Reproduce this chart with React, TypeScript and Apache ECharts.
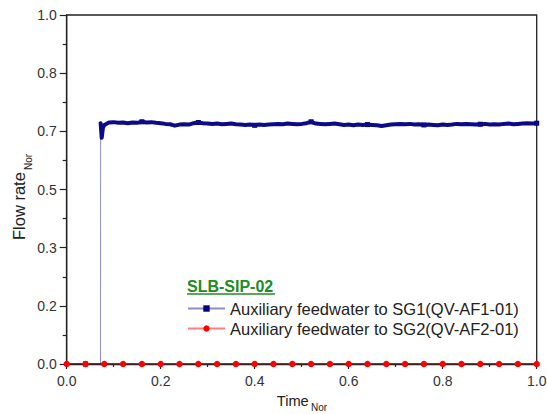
import React, { useEffect, useRef } from "react";
import * as echarts from "echarts";

// ---------- data ----------
const nameSG1 = "Auxiliary feedwater to SG1(QV-AF1-01)";
const nameSG2 = "Auxiliary feedwater to SG2(QV-AF2-01)";
const legendTitle = "SLB-SIP-02";

const xTickLabels = ["0.0", "0.2", "0.4", "0.6", "0.8", "1.0"];
const yTickValues = [0, 1 / 6, 2 / 6, 3 / 6, 4 / 6, 5 / 6, 1];
const yMinorValues = [1 / 12, 3 / 12, 5 / 12, 7 / 12, 9 / 12, 11 / 12];

// SG1: before / during the step
const blueRiseTimes = [0, 0.04, 0.072, 0.0722, 0.0745, 0.077];
const blueRiseValues = [0, 0, 0, 0.69, 0.648, 0.676];
// SG1 plateau, sampled every 0.01 from 0.08 to 1.00
const bluePlateauTimes = [
  0.08, 0.09, 0.1, 0.11, 0.12, 0.13, 0.14, 0.15, 0.16, 0.17, 0.18, 0.19, 0.2, 0.21, 0.22, 0.23,
  0.24, 0.25, 0.26, 0.27, 0.28, 0.29, 0.3, 0.31, 0.32, 0.33, 0.34, 0.35, 0.36, 0.37, 0.38, 0.39,
  0.4, 0.41, 0.42, 0.43, 0.44, 0.45, 0.46, 0.47, 0.48, 0.49, 0.5, 0.51, 0.52, 0.53, 0.54, 0.55,
  0.56, 0.57, 0.58, 0.59, 0.6, 0.61, 0.62, 0.63, 0.64, 0.65, 0.66, 0.67, 0.68, 0.69, 0.7, 0.71,
  0.72, 0.73, 0.74, 0.75, 0.76, 0.77, 0.78, 0.79, 0.8, 0.81, 0.82, 0.83, 0.84, 0.85, 0.86, 0.87,
  0.88, 0.89, 0.9, 0.91, 0.92, 0.93, 0.94, 0.95, 0.96, 0.97, 0.98, 0.99, 1.0,
];
const bluePlateauValues = [
  0.685, 0.692, 0.693, 0.691, 0.692, 0.69, 0.692, 0.691, 0.694, 0.692, 0.693, 0.691, 0.69, 0.688,
  0.687, 0.683, 0.686, 0.687, 0.686, 0.69, 0.692, 0.69, 0.689, 0.688, 0.689, 0.687, 0.688, 0.689,
  0.687, 0.686, 0.685, 0.686, 0.684, 0.686, 0.685, 0.686, 0.687, 0.688, 0.687, 0.689, 0.688, 0.687,
  0.688, 0.69, 0.694, 0.689, 0.688, 0.687, 0.688, 0.689, 0.687, 0.685, 0.686, 0.684, 0.686, 0.685,
  0.686, 0.685, 0.684, 0.682, 0.684, 0.686, 0.687, 0.688, 0.687, 0.688, 0.686, 0.687, 0.685, 0.686,
  0.685, 0.684, 0.686, 0.685, 0.686, 0.688, 0.687, 0.688, 0.687, 0.686, 0.687, 0.688, 0.686, 0.687,
  0.686, 0.688, 0.689, 0.687, 0.688, 0.689, 0.69, 0.689, 0.69,
];
const blueMarkerTimes = [0.04, 0.16, 0.28, 0.4, 0.52, 0.64, 0.76, 0.88, 1.0];

// SG2
const redTimes = [
  0, 0.04, 0.08, 0.12, 0.16, 0.2, 0.24, 0.28, 0.32, 0.36, 0.4, 0.44, 0.48, 0.52, 0.56, 0.6, 0.64,
  0.68, 0.72, 0.76, 0.8, 0.84, 0.88, 0.92, 0.96, 1.0,
];
const redValues = [0, 0, 0, 0, 0, 0, 0, 0, 0, 0, 0, 0, 0, 0, 0, 0, 0, 0, 0, 0, 0, 0, 0, 0, 0, 0];

// ---------- chart ----------
const FONT = "'Liberation Sans', Arial, Helvetica, sans-serif";
const AXIS = "#222";

export default function App() {
  const ref = useRef<HTMLDivElement>(null);

  useEffect(() => {
    if (!ref.current) return;
    const chart = echarts.init(ref.current, null, { renderer: "svg" });

    const isMarker = (t: number) => blueMarkerTimes.some((m) => Math.abs(m - t) < 1e-6);
    const blueTimes = [...blueRiseTimes, ...bluePlateauTimes];
    const blueValues = [...blueRiseValues, ...bluePlateauValues];
    const blueData = blueTimes.map((t, i) => ({
      value: [t, blueValues[i]],
      symbolSize: isMarker(t) ? 5 : 0,
    }));
    const bandData = blueTimes
      .map((t, i) => [t, blueValues[i]])
      .filter((p, i) => i >= 3);
    const redData = redTimes.map((t, i) => [t, redValues[i]]);

    const option: any = {
      animation: false,
      backgroundColor: "#fff",
      grid: {
        left: 66.7,
        right: 10.3,
        top: 15,
        bottom: 50,
        containLabel: false,
        outerBoundsMode: "none",
        show: true,
        borderColor: AXIS,
        borderWidth: 1.3,
        backgroundColor: "transparent",
      },
      xAxis: {
        type: "value",
        min: 0,
        max: 1,
        interval: 0.2,
        axisLine: { show: true, lineStyle: { color: AXIS, width: 1.3 } },
        axisTick: { show: true, inside: false, length: 5, lineStyle: { color: AXIS, width: 1.2 } },
        minorTick: { show: true, splitNumber: 2, length: 3, lineStyle: { color: AXIS, width: 1.2 } },
        splitLine: { show: false },
        minorSplitLine: { show: false },
        axisLabel: {
          margin: 10,
          fontSize: 14,
          fontFamily: FONT,
          color: "#333",
          formatter: (v: number) => xTickLabels[Math.round(v / 0.2)] ?? v.toFixed(1),
        },
      },
      yAxis: [
        {
          type: "value",
          min: 0,
          max: 1,
          position: "left",
          axisLine: { show: true, lineStyle: { color: AXIS, width: 1.3 } },
          axisTick: {
            show: true,
            inside: false,
            length: 7,
            customValues: yTickValues,
            lineStyle: { color: AXIS, width: 1.2 },
          },
          splitLine: { show: false },
          axisLabel: {
            margin: 10,
            fontSize: 14,
            fontFamily: FONT,
            color: "#333",
            customValues: yTickValues,
            formatter: (v: number) => v.toFixed(1),
          },
        },
        {
          type: "value",
          min: 0,
          max: 1,
          position: "left",
          offset: 0,
          axisLine: { show: false },
          axisTick: {
            show: true,
            inside: false,
            length: 4,
            customValues: yMinorValues,
            lineStyle: { color: AXIS, width: 1.2 },
          },
          splitLine: { show: false },
          axisLabel: { show: false },
        },
      ],
      legend: {
        data: [nameSG1, nameSG2],
        orient: "vertical",
        left: 187,
        top: 300,
        itemWidth: 37,
        itemHeight: 8,
        itemGap: 3,
        padding: 0,
        selectedMode: false,
        textStyle: { fontSize: 16.5, fontFamily: FONT, color: "#222" },
      },
      graphic: [
        {
          type: "text",
          x: 187,
          y: 286,
          style: {
            text: legendTitle,
            fill: "#228b22",
            fontSize: 16,
            fontWeight: "bold",
            fontFamily: FONT,
            textAlign: "left",
            textVerticalAlign: "middle",
            align: "left",
            verticalAlign: "middle",
          },
        },
        {
          type: "line",
          shape: { x1: 187, y1: 294, x2: 275, y2: 294 },
          style: { stroke: "#228b22", lineWidth: 1.5 },
        },
        {
          type: "text",
          x: 276.7,
          y: 401,
          style: {
            text: "Time",
            fill: "#222",
            fontSize: 14.7,
            fontFamily: FONT,
            textAlign: "left",
            textVerticalAlign: "middle",
            align: "left",
            verticalAlign: "middle",
          },
        },
        {
          type: "text",
          x: 311,
          y: 407.5,
          style: {
            text: "Nor",
            fill: "#222",
            fontSize: 10,
            fontFamily: FONT,
            textAlign: "left",
            textVerticalAlign: "middle",
            align: "left",
            verticalAlign: "middle",
          },
        },
        {
          type: "group",
          x: 19,
          y: 240,
          rotation: Math.PI / 2,
          children: [
            {
              type: "text",
              x: 0,
              y: 0,
              style: {
                text: "Flow rate",
                fill: "#222",
                fontSize: 16.5,
                fontFamily: FONT,
                textAlign: "left",
                textVerticalAlign: "middle",
                align: "left",
                verticalAlign: "middle",
              },
            },
            {
              type: "text",
              x: 70,
              y: 9,
              style: {
                text: "Nor",
                fill: "#222",
                fontSize: 10,
                fontFamily: FONT,
                textAlign: "left",
                textVerticalAlign: "middle",
                align: "left",
                verticalAlign: "middle",
              },
            },
          ],
        },
      ],
      series: [
        {
          name: nameSG1,
          type: "line",
          data: blueData,
          symbol: "rect",
          showSymbol: true,
          showAllSymbol: true,
          lineStyle: { color: "rgba(0,0,128,0.45)", width: 1 },
          itemStyle: { color: "#000080" },
          z: 2,
        },
        {
          name: "SG1 band",
          type: "line",
          data: bandData,
          symbol: "none",
          silent: true,
          lineStyle: { color: "#0a0a8a", width: 4, join: "round", cap: "round" },
          itemStyle: { color: "#0a0a8a" },
          z: 3,
        },
        {
          name: nameSG2,
          type: "line",
          data: redData,
          symbol: "circle",
          symbolSize: 6.5,
          showAllSymbol: true,
          lineStyle: { color: "rgba(255,0,0,0.5)", width: 1 },
          itemStyle: { color: "#ff0000" },
          z: 4,
        },
      ],
    };

    chart.setOption(option);
    return () => chart.dispose();
  }, []);

  return (
    <div
      ref={ref}
      style={{ position: "fixed", left: 0, top: 0, width: 547, height: 414, background: "#fff" }}
    />
  );
}
